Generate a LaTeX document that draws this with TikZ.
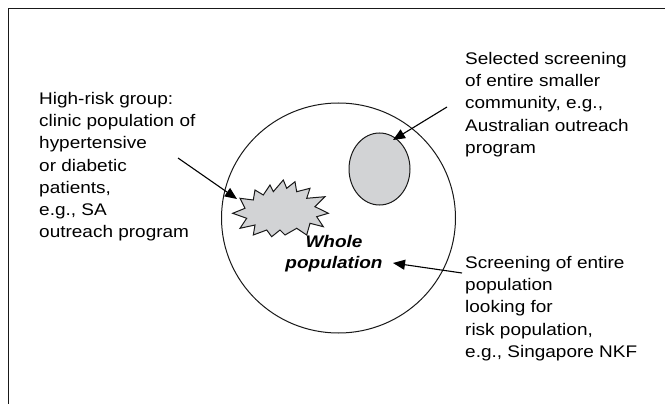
\documentclass[tikz,border=0pt]{standalone}
\usepackage{fontspec}
\setmainfont{Liberation Sans}[FakeStretch=1.13]
\usetikzlibrary{arrows.meta}
\definecolor{shade}{RGB}{210,211,213}
\tikzset{
  frame/.style={line width=1.6pt, draw=black!90},
  label/.style={inner sep=0pt, anchor=north west, align=left, font=\fontsize{16.8}{22.3}\selectfont},
  pointer/.style={line width=1.1pt, -{Triangle[length=12pt,width=10pt]}},
  shapeline/.style={line width=1pt, draw=black!90},
}
\begin{document}
\begin{tikzpicture}[x=1pt,y=-1pt]
\useasboundingbox (0,0) rectangle (665,404);
\draw[frame] (8.5,404) -- (8.5,8.5) -- (665,8.5);
% whole population circle
\draw[shapeline] (338.5,218) ellipse [x radius=117, y radius=115];
% selected community ellipse
\draw[shapeline, fill=shade] (379.5,169) ellipse [x radius=30.5, y radius=36];
% high-risk starburst
\draw[shapeline, fill=shade, line join=miter]
  (232.7,213.3) -- (245,208.3) -- (240,198.3) -- (253.3,200) -- (255,190) -- (263.3,195)
  -- (270,185) -- (273.3,191.7) -- (283.3,180) -- (286.7,188.3) -- (295,181.7) -- (296.7,191.7)
  -- (310,188.3) -- (306.7,198.3) -- (325,196.7) -- (315,206.7) -- (328.3,213.3) -- (316.7,216.7)
  -- (323.3,226.7) -- (310,223.3) -- (306.7,235) -- (296.7,228.3) -- (285,235) -- (280,230)
  -- (271.7,236.7) -- (266.7,230) -- (253.3,235) -- (255,225) -- (240,228.3) -- (246.7,218.3) -- cycle;
% texts
\node[label] (hr) at (39,91.8) {High-risk group:\\clinic population of\\hypertensive\\or diabetic\\patients,\\e.g., SA\\outreach program};
\node[label] (sel) at (465,51.8) {Selected screening\\of entire smaller\\community, e.g.,\\Australian outreach\\program};
\node[label] (scr) at (465,255.8) {Screening of entire\\population\\looking for\\risk population,\\e.g., Singapore NKF};
\node[inner sep=0pt, anchor=north, align=center, font=\fontsize{16.8}{21}\selectfont\bfseries\itshape] (whole) at (334,235) {Whole\\population};
% connectors
\coordinate (hrtail) at (178,158);
\coordinate (burst) at (237,199);
\coordinate (seltail) at (447,107);
\coordinate (comm) at (393,140);
\coordinate (scrtail) at (462,273);
\coordinate (pop) at (393,263);
\draw[pointer] (hrtail) -- (burst);
\draw[pointer] (seltail) -- (comm);
\draw[pointer] (scrtail) -- (pop);
\end{tikzpicture}
\end{document}
